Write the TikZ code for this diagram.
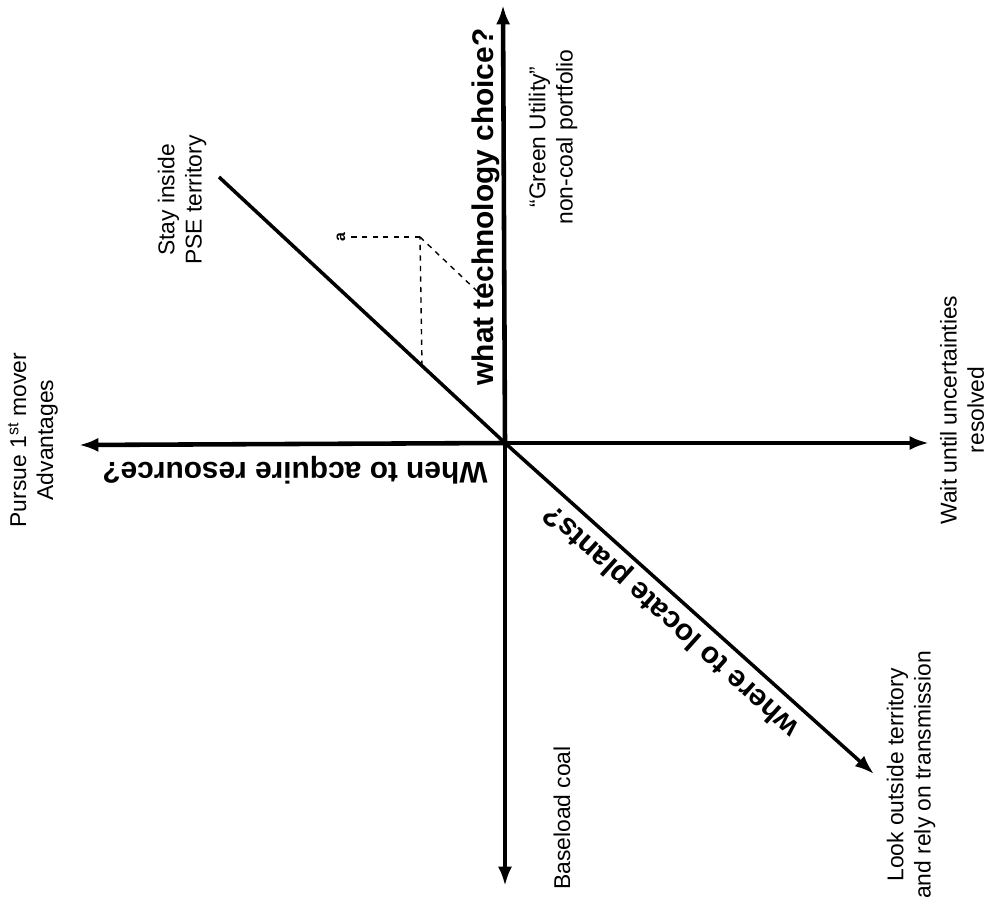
\documentclass[tikz,border=0pt]{standalone}
\usepackage{fontspec}
\setmainfont{Liberation Sans}
\usepackage{tikz}
\usetikzlibrary{arrows.meta}

\tikzset{
	axis/.style={line width=2.6pt,-{Latex[length=11pt,width=8pt]}},
	choice/.style={align=center,rotate=90,font=\fontsize{13}{15.5}\selectfont},
	question/.style={font=\bfseries\fontsize{17}{20}\selectfont},
	guide/.style={dashed,line width=0.8pt}
}

\begin{document}
\begin{tikzpicture}[x=0.02cm,y=-0.02cm]
	\useasboundingbox (0,0) rectangle (991,902);
	%\draw[help lines,step=50] (0,0) grid (991,902);
	\coordinate (o) at (505,443);
	\coordinate (top) at (503,5);
	\coordinate (bot) at (505,886);
	\coordinate (left) at (79,445);
	\coordinate (right) at (929,443);
	\coordinate (inside) at (219,177);
	\coordinate (outside) at (874,774);

	\draw[axis](o)--(top);
	\draw[axis](o)--(bot);
	\draw[axis](o)--(left);
	\draw[axis](o)--(right);
	\draw[line width=2pt](inside)--(o);
	\draw[line width=2pt,-{Latex[length=11pt,width=8pt]}](o)--(outside);

	% the dashed construction
	\coordinate (foot) at (422,366);
	\coordinate (corner) at (420,237);
	\coordinate (tip) at (478,292);
	\node[rotate=90,font=\bfseries\small,inner sep=1pt] (a) at (341,237) {a};
	\draw[guide](foot)--(corner);
	\draw[guide](corner)--(a);
	\draw[guide](corner)--(tip);

	% the three questions
	\node[question,rotate=90] (tech) at (486,207) {what technology choice?};
	\node[question,rotate=180] (when) at (295,470) {When to acquire resource?};
	\node[question,rotate=138.1] (where) at (672,620) {where to locate plants?};

	% the ends of the axes
	\node[choice] (pursue) at (33,440) {Pursue 1\textsuperscript{st} mover\\Advantages};
	\node[choice] (stay) at (182,200) {Stay inside\\PSE territory};
	\node[choice] (green) at (553,137) {``Green Utility''\\non-coal portfolio};
	\node[choice] (wait) at (962,410) {Wait until uncertainties\\resolved};
	\node[choice] (coal) at (562,818) {Baseload coal};
	\node[choice] (look) at (911,775) {Look outside territory\\and rely on transmission};
\end{tikzpicture}
\end{document}
